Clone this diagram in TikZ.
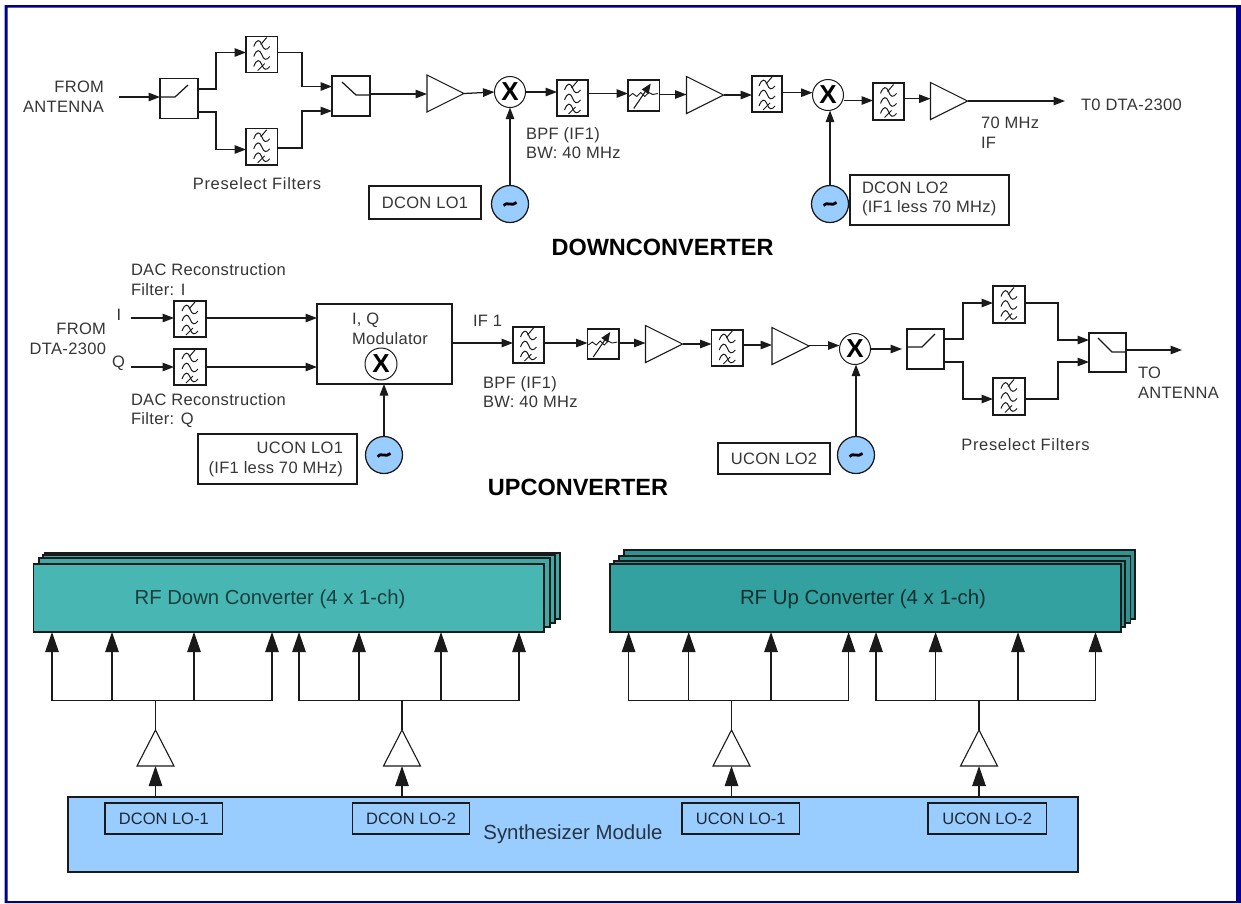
\documentclass[tikz,border=0pt]{standalone}
\usepackage{fontspec}
\setmainfont{Liberation Sans}
\usetikzlibrary{arrows.meta,calc}
\definecolor{navyb}{HTML}{00008B}
\definecolor{lnk}{HTML}{1A1A1A}
\definecolor{txt}{HTML}{363636}
\definecolor{oscb}{HTML}{99CCFF}
\definecolor{tealA}{HTML}{48B6B3}
\definecolor{tealAb}{HTML}{40A8A5}
\definecolor{tealB}{HTML}{33A19F}
\definecolor{tealBb}{HTML}{2E9391}
\newcommand\fsz[1]{\fontsize{#1}{#1}\selectfont}
\newcommand\lsf[2]{\fontsize{#1}{19.7}\selectfont\addfontfeature{LetterSpace=#2}}
\tikzset{
  x=1pt,y=-1pt,
  lnkline/.style={draw=lnk,line width=1.25pt},
  arr/.style={lnkline,-{Triangle[length=11.5pt,width=8.5pt]},shorten >=0pt},
  bigarr/.style={lnkline,-{Triangle[length=20pt,width=13.5pt]}},
  lab/.style={inner sep=0pt,outer sep=0pt,text=txt,font=\lsf{16.5}{2},align=left},
  boxs/.style={draw=lnk,line width=1.25pt,inner sep=0pt,outer sep=0pt},
  mix/.style={circle,draw=lnk,line width=1pt,fill=white,minimum size=31pt,inner sep=0pt,outer sep=0pt,font=\fsz{26}\bfseries},
  oscn/.style={circle,draw=lnk,line width=1.25pt,fill=oscb,minimum size=37pt,inner sep=0pt,outer sep=0pt},
  ghost/.style={inner sep=0pt,outer sep=0pt},
  head/.style={inner sep=0pt,outer sep=0pt,text=black,font=\fsz{23.5}\bfseries},
  pics/filtg/.style={code={
    \foreach \dy in {-10,0,10}{
      \draw[lnk,line width=1pt] (-8,\dy+2) .. controls (-5,\dy-6) and (-2,\dy-5) .. (0,\dy) .. controls (2,\dy+6) and (5,\dy+6) .. (8,\dy+2);
    }
    \draw[lnk,line width=1pt] (-1,-10) -- (5,-17);
    \draw[lnk,line width=1pt] (-4,16) -- (3,9);
  }},
  pics/attg/.style={code={
    \draw[lnk,line width=0.9pt] (-15,1) -- (-11,-2) -- (-7,1) -- (-3,-3) -- (1,1) -- (5,-3) -- (9,-1) -- (14,-2);
    \draw[lnk,line width=1.1pt,-{Triangle[length=10pt,width=8pt]}] (-10,13) -- (7,-12);
  }},
  pics/tild/.style={code={
    \draw[black,line width=2.8pt] (-6.5,1.5) .. controls (-3,-3) and (2,3) .. (6.5,-1.5);
  }},
}
\newcommand\bx[6][]{%
  \pgfmathsetmacro\cxx{(#3+#5)/2}\pgfmathsetmacro\cyy{(#4+#6)/2}%
  \pgfmathsetmacro\ww{#5-#3}\pgfmathsetmacro\hh{#6-#4}%
  \node[boxs,minimum width=\ww pt,minimum height=\hh pt,#1] (#2) at (\cxx,\cyy) {};}
\newcommand\filt[5]{\bx{#1}{#2}{#3}{#4}{#5}\pic at (#1.center) {filtg};}
\newcommand\attn[5]{\bx{#1}{#2}{#3}{#4}{#5}\pic at (#1.center) {attg};}
\newcommand\ampR[3]{\node[ghost,minimum width=37pt,minimum height=37pt] (#1) at (#2,#3) {};
  \draw[lnkline,line width=1.1pt] (#1.north west) -- (#1.east) -- (#1.south west) -- cycle;}
\newcommand\ampU[3]{\node[ghost,minimum width=37pt,minimum height=36pt] (#1) at (#2,#3) {};
  \draw[lnkline,line width=1.1pt] (#1.south west) -- (#1.north) -- (#1.south east) -- cycle;}
\newcommand\oscil[3]{\node[oscn] (#1) at (#2,#3) {};\pic at (#1.center) {tild};}
\newcommand\hc[3]{\draw[arr] (#1.east |- 0,#3) -- (#2.west |- 0,#3);}
\begin{document}
\begin{tikzpicture}
\useasboundingbox (0,0) rectangle (1241,903);
\fill[white] (0,0) rectangle (1241,903);
\fill[navyb,even odd rule] (4.5,5) rectangle (1241,903) (7.5,7.5) rectangle (1236,901);

% ---------- DOWNCONVERTER chain
\node[lab,anchor=east,align=right] (tFA) at (104,96.5) {FROM\\ANTENNA};
\coordinate (inD) at (119,97);
\bx{swA}{160}{78.5}{198}{118.5}
\draw[lnkline] (swA.west |- 0,97) -- (175,97) -- (188,85);
\draw[arr] (inD) -- (swA.west |- inD);
\filt{fA}{246}{36.5}{277.5}{72.5}
\filt{fB}{246}{128.5}{277.5}{165}
\bx{swB}{332}{76}{370}{116}
\draw[lnkline] (342,82) -- (356,95) -- (swB.east |- 0,95);
\draw[arr] (swA.east |- 0,89) -| (216,52.5) -- (fA.west |- 0,52.5);
\draw[arr] (swA.east |- 0,112) -| (216,149.5) -- (fB.west |- 0,149.5);
\draw[arr] (fA.east |- 0,52.5) -| (302,86.5) -- (swB.west |- 0,86.5);
\draw[arr] (fB.east |- 0,148) -| (302,111) -- (swB.west |- 0,111);
\node[lab,font=\lsf{16.5}{4}] (tPA) at (257,184) {Preselect Filters};
\ampR{aA}{445.5}{93.5}
\node[mix] (mA) at (510,92) {X};
\filt{fC}{557}{80}{588}{116}
\attn{atA}{628}{80}{659.5}{111}
\ampR{aB}{705}{95}
\filt{fD}{752}{76}{782}{112}
\node[mix] (mB) at (828,95) {X};
\filt{fE}{873}{83}{904}{120}
\ampR{aC}{949}{101}
\coordinate (outD) at (1065,101);
\hc{swB}{aA}{94}
\draw[arr] (aA.east) -- (mA.west);
\hc{mA}{fC}{92}
\hc{fC}{atA}{93.5}
\hc{atA}{aB}{94.5}
\hc{aB}{fD}{95}
\hc{fD}{mB}{92.7}
\hc{mB}{fE}{100.5}
\hc{fE}{aC}{98.7}
\draw[arr] (aC.east) -- (outD);
\node[lab,anchor=base west] (tTD) at (1081,110) {T0 DTA-2300};
\node[lab,anchor=west] (tIF) at (981,132.5) {70 MHz\\IF};
\node[lab,anchor=west] (tBP) at (526,143) {BPF (IF1)\\BW: 40 MHz};
\bx{lA}{369}{186}{481}{219}
\node[lab] (tLA) at (lA.center) {DCON LO1};
\oscil{oA}{510}{204}
\draw[arr] (oA.north) -- (mA.south);
\oscil{oB}{830}{204}
\draw[arr] (oB.north) -- (oB.north |- mB.south);
\bx{lB}{850}{175}{1009}{225}
\node[lab,anchor=west] (tLB) at (862,199) {DCON LO2\\(IF1 less 70 MHz)};
\node[head] (tDC) at (662.5,247) {DOWNCONVERTER};

% ---------- UPCONVERTER chain
\node[lab,anchor=west] (tDI) at (131,279.5) {DAC Reconstruction\\Filter: I};
\node[lab,anchor=west] (tDQ) at (131,410.5) {DAC Reconstruction\\Filter: Q};
\node[lab,anchor=east,align=right] (tFD) at (106,338.5) {FROM\\DTA-2300};
\node[lab] (tI) at (119,315) {I};
\node[lab] (tQ) at (118.5,363) {Q};
\coordinate (inI) at (131,318);
\coordinate (inQ) at (131,367);
\filt{fF}{174}{301}{206}{337}
\filt{fG}{174}{349}{206}{385}
\bx{modu}{317}{304}{452}{384}
\node[lab,anchor=west] (tMD) at (352,329) {I, Q\\Modulator};
\node[mix,minimum size=32pt] (mC) at (381,364) {X};
\draw[arr] (inI) -- (fF.west |- inI);
\draw[arr] (inQ) -- (fG.west |- inQ);
\hc{fF}{modu}{318}
\hc{fG}{modu}{367}
\bx{lC}{198}{434}{357}{484}
\node[lab,anchor=east,align=right] (tLC) at (343,459.5) {UCON LO1\\(IF1 less 70 MHz)};
\oscil{oC}{384}{455}
\draw[arr] (oC.north) -- (oC.north |- modu.south);
\node[lab,anchor=west] (tIFo) at (473,321) {IF 1};
\filt{fH}{513}{327}{544}{363}
\attn{atB}{587.5}{329}{619}{359}
\ampR{aD}{664}{344}
\filt{fI}{711.5}{330}{743}{366}
\ampR{aE}{790.5}{346}
\node[mix] (mD) at (855,349) {X};
\hc{modu}{fH}{343}
\hc{fH}{atB}{343}
\hc{atB}{aD}{343}
\hc{aD}{fI}{344}
\hc{fI}{aE}{345}
\hc{aE}{mD}{345.5}
\node[lab,anchor=west] (tBQ) at (483,392) {BPF (IF1)\\BW: 40 MHz};
\bx{lD}{718}{443}{830}{474}
\node[lab] (tLD) at (lD.center) {UCON LO2};
\oscil{oD}{856}{455}
\draw[arr] (oD.north) -- (oD.north |- mD.south);
\node[head] (tUC) at (578,487) {UPCONVERTER};
\bx{swC}{907}{329}{944}{369}
\draw[lnkline] (swC.west |- 0,347) -- (922,347) -- (935,334);
\draw[arr] (mD.east |- 0,349) -- (902,349);
\filt{fJ}{993}{286}{1025}{323}
\filt{fK}{993}{378}{1025}{415}
\bx{swD}{1089}{333}{1126}{372}
\draw[lnkline] (1098,338) -- (1112,352) -- (swD.east |- 0,352);
\draw[arr] (swC.east |- 0,339) -| (963,303) -- (fJ.west |- 0,303);
\draw[arr] (swC.east |- 0,362) -| (963,399) -- (fK.west |- 0,399);
\draw[arr] (fJ.east |- 0,303) -| (1058,340) -- (swD.west |- 0,340);
\draw[arr] (fK.east |- 0,399) -| (1058,362) -- (swD.west |- 0,362);
\coordinate (outU) at (1182,350);
\draw[arr] (swD.east |- outU) -- (outU);
\node[lab,anchor=west] (tTA) at (1138,383) {TO\\ANTENNA};
\node[lab,font=\lsf{16.5}{4}] (tPB) at (1025.5,445) {Preselect Filters};

% ---------- Converter stacks
\foreach \qa/\qb/\qc/\qd in {45/553/560/619,43/555/555/623,39/558/550/627}{
  \fill[tealAb,draw=lnk,line width=1.2pt] (\qa,\qb) rectangle (\qc,\qd);
}
\bx[fill=tealA,line width=1.2pt]{dc}{33.5}{564}{544}{632}
\node[inner sep=0pt,text=black!65!tealA,font=\fsz{20.3}] (tDCb) at (270,599) {RF Down Converter (4 x 1-ch)};
\foreach \qa/\qb/\qc/\qd in {624/550/1135/619,619/556/1130.5/623,614/561/1125/627}{
  \fill[tealBb,draw=lnk,line width=1.2pt] (\qa,\qb) rectangle (\qc,\qd);
}
\bx[fill=tealB,line width=1.2pt]{uc}{610}{564}{1121}{632}
\node[inner sep=0pt,text=black!70!tealB,font=\fsz{20.4}] (tUCb) at (863,599) {RF Up Converter (4 x 1-ch)};

% ---------- Synthesizer
\bx[fill=oscb,line width=1.2pt]{syn}{68}{797}{1078}{872}
\node[inner sep=0pt,text=black!75!oscb,font=\fsz{20.4}] (tSy) at (573,834) {Synthesizer Module};
\foreach \nn/\qa/\qb/\tt in {sA/105/222.7/DCON LO-1,sB/352.5/469.6/DCON LO-2,sC/682/799.5/UCON LO-1,sD/928/1046.5/UCON LO-2}{
  \bx{\nn}{\qa}{803}{\qb}{834}
  \node[lab,text=black!80!oscb,font=\lsf{16.5}{0}] (t\nn) at (\nn.center) {\tt};
}

% ---------- LO distribution
\ampU{dA}{155.5}{748}
\ampU{dB}{402}{748}
\ampU{dC}{731.5}{748}
\ampU{dD}{979}{748}
\foreach \gg/\tgt/\amq/\xa/\xb/\xc/\xd in {P/dc/dA/52/112/194/272,Q/dc/dB/299/359/441/519,R/uc/dC/628.6/688.7/771/848.6,S/uc/dD/876/935.6/1018/1095.5}{
  \coordinate (\gg1) at (\xa,700.7);
  \coordinate (\gg2) at (\xb,700.7);
  \coordinate (\gg3) at (\xc,700.7);
  \coordinate (\gg4) at (\xd,700.7);
  \draw[lnkline] (\gg1) -- (\gg4);
  \draw[lnkline] (\amq.north) -- (\amq.north |- \gg1);
  \foreach \kk in {1,2,3,4}{\draw[bigarr] (\gg\kk) -- (\gg\kk |- \tgt.south);}
  \draw[bigarr] (\amq.south |- syn.north) -- (\amq.south);
}
\end{tikzpicture}
\end{document}
